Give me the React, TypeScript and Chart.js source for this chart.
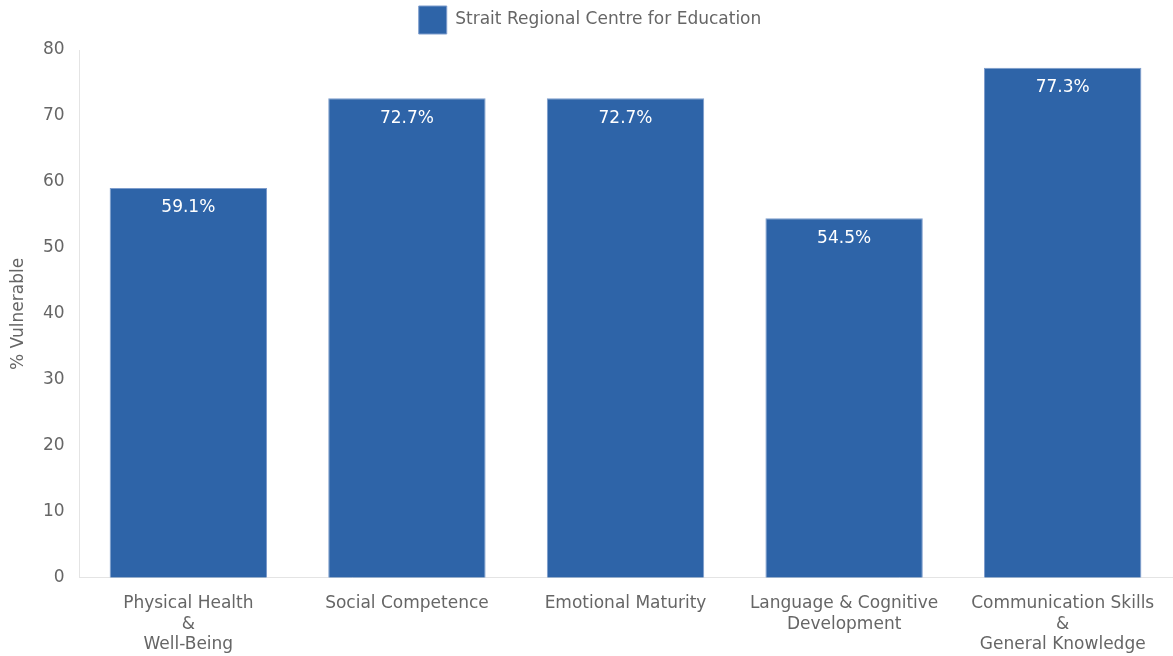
import { Chart, registerables } from 'chart.js'
import { useEffect, useRef } from 'react'

Chart.register(...registerables)

const categories = [
  ['Physical Health', '&', 'Well-Being'],
  'Social Competence',
  'Emotional Maturity',
  ['Language & Cognitive', 'Development'],
  ['Communication Skills', '&', 'General Knowledge'],
]
const seriesName = 'Strait Regional Centre for Education'
const values = [59.1, 72.7, 72.7, 54.5, 77.3]

const FONT = "'DejaVu Sans', sans-serif"

// white value labels inside the top of each bar
const barLabels = {
  id: 'barLabels',
  afterDatasetsDraw(chart: Chart) {
    const ctx = chart.ctx
    const meta = chart.getDatasetMeta(0)
    ctx.save()
    ctx.fillStyle = '#ffffff'
    ctx.font = `17px ${FONT}`
    ctx.textAlign = 'center'
    ctx.textBaseline = 'middle'
    meta.data.forEach((bar: any, i: number) => {
      ctx.fillText(values[i].toFixed(1) + '%', bar.x, bar.y + 20)
    })
    ctx.restore()
  },
}

// a bit more room between legend and plot
const legendSpacing = {
  id: 'legendSpacing',
  beforeInit(chart: any) {
    const legend = chart.legend
    if (!legend) return
    const origFit = legend.fit
    legend.fit = function () {
      origFit.bind(legend)()
      this.height += 6
    }
  },
}

export default function App() {
  const chartRef = useRef<HTMLCanvasElement>(null)
  const chartInstance = useRef<Chart | null>(null)

  useEffect(() => {
    if (!chartRef.current) return
    if (chartInstance.current) chartInstance.current.destroy()

    chartInstance.current = new Chart(chartRef.current, {
      type: 'bar',
      data: {
        labels: categories,
        datasets: [{
          label: seriesName,
          data: values,
          backgroundColor: '#2e64a8',
          borderColor: '#7d9ccc',
          borderWidth: 1,
          categoryPercentage: 1,
          barPercentage: 0.72,
        }],
      },
      options: {
        animation: false,
        responsive: true,
        maintainAspectRatio: false,
        layout: { padding: { left: 8, right: 1, top: 0, bottom: 0 } },
        scales: {
          x: {
            grid: { display: false, drawTicks: false },
            border: { display: true, color: '#e4e4e4' },
            ticks: {
              color: '#666',
              font: { family: FONT, size: 17, lineHeight: 1.2 },
              padding: 16,
              maxRotation: 0,
              minRotation: 0,
              autoSkip: false,
            },
            afterFit(scale: any) {
              scale.height -= 15
            },
          },
          y: {
            min: 0,
            max: 80,
            grid: { display: false, drawTicks: false },
            border: { display: true, color: '#e4e4e4' },
            ticks: { stepSize: 10, color: '#666', font: { family: FONT, size: 17 }, padding: 14.5 },
            title: {
              display: true,
              text: '% Vulnerable',
              color: '#666',
              font: { family: FONT, size: 17 },
              padding: 0,
            },
          },
        },
        plugins: {
          legend: {
            display: true,
            position: 'top',
            labels: {
              boxWidth: 28,
              boxHeight: 28,
              color: '#666',
              font: { family: FONT, size: 17 },
              padding: 6,
            },
          },
          tooltip: { enabled: false },
        },
      },
      plugins: [barLabels, legendSpacing],
    })

    return () => {
      if (chartInstance.current) {
        chartInstance.current.destroy()
        chartInstance.current = null
      }
    }
  }, [])

  return (
    <div style={{ position: 'fixed', left: 0, top: 0, width: 1173, height: 656 }}>
      <canvas ref={chartRef}></canvas>
    </div>
  )
}
